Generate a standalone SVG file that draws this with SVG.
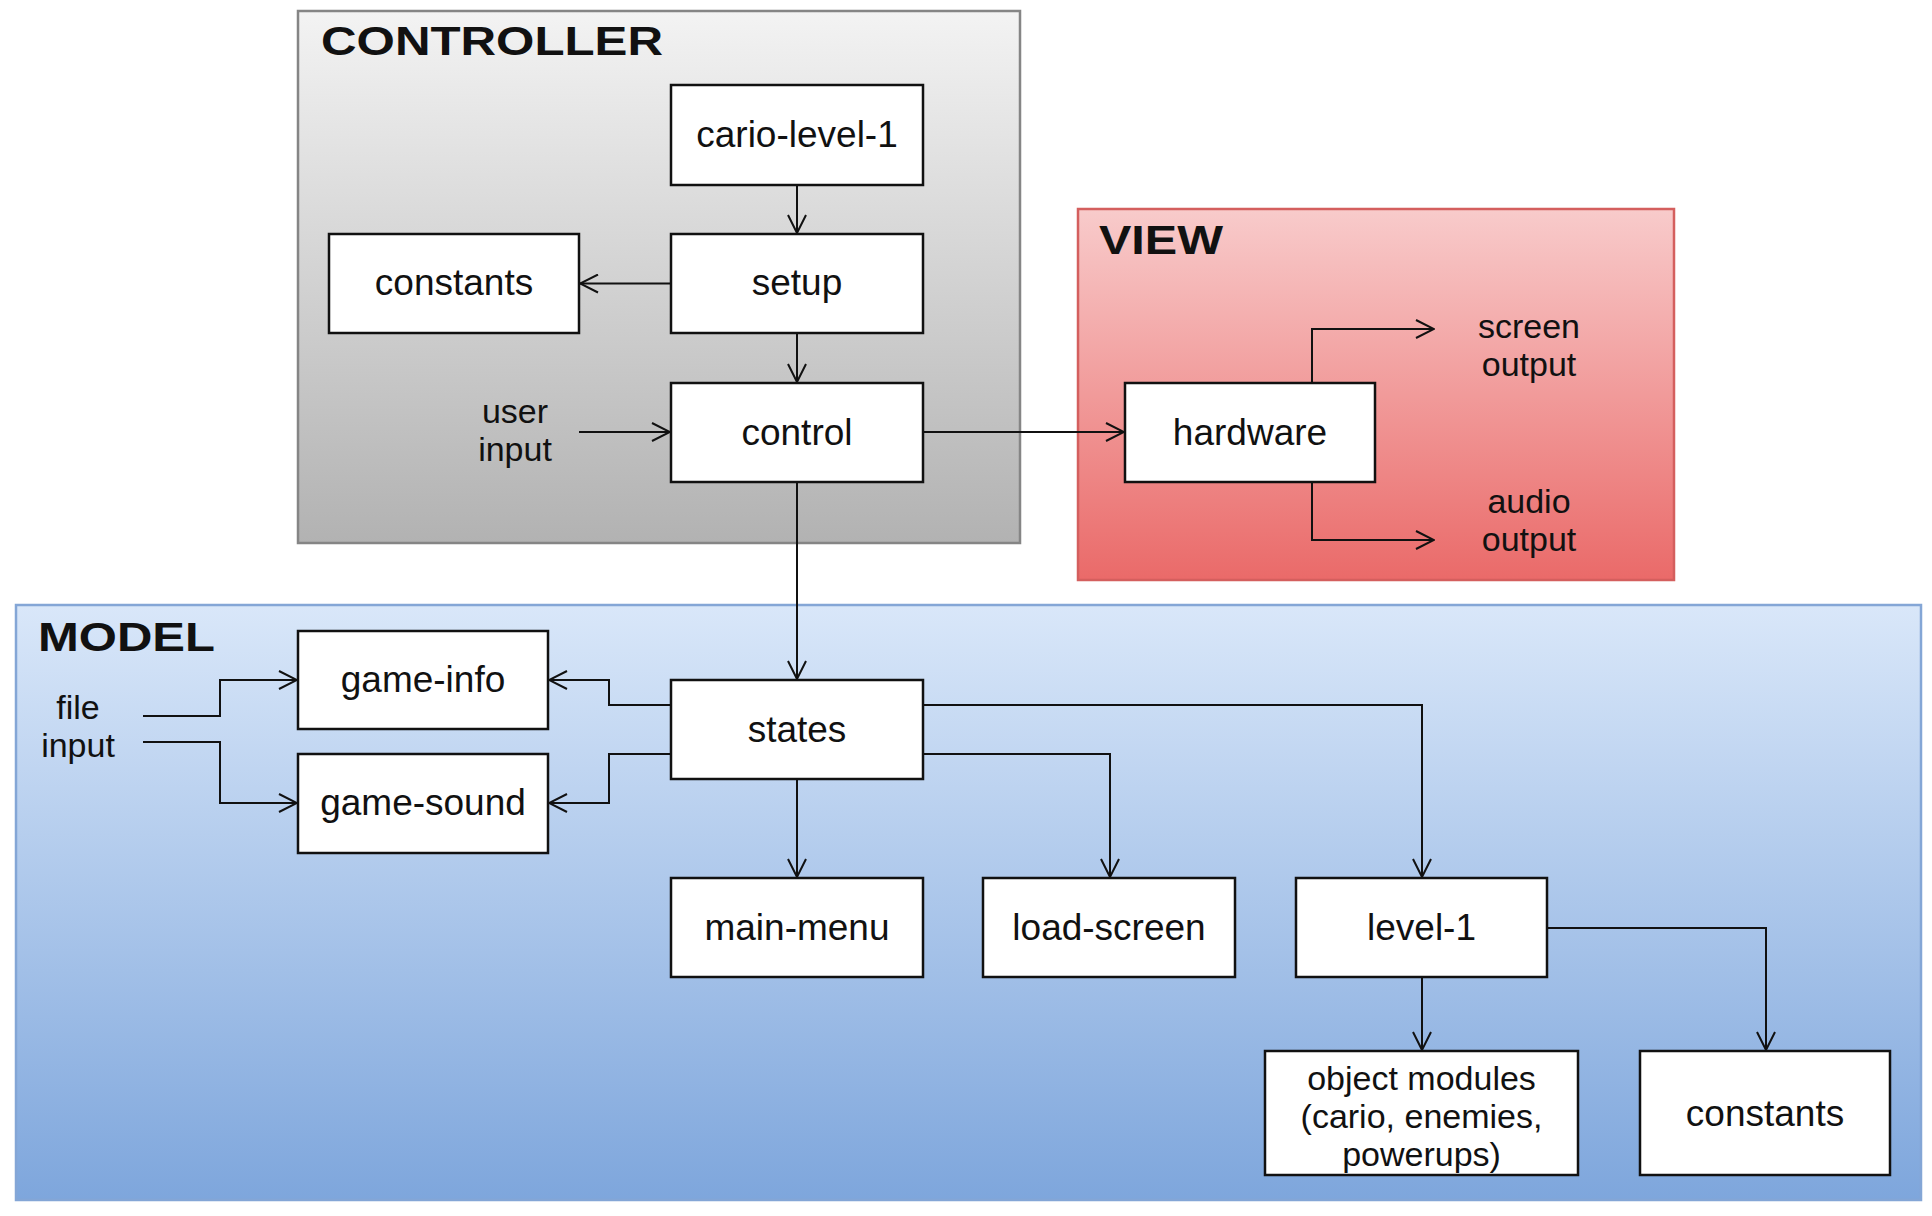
<svg xmlns="http://www.w3.org/2000/svg" width="1932" height="1216" viewBox="0 0 1932 1216">
<defs>
<linearGradient id="gCtrl" x1="0" y1="0" x2="0" y2="1"><stop offset="0" stop-color="#f3f3f3"/><stop offset="1" stop-color="#b2b2b2"/></linearGradient>
<linearGradient id="gView" x1="0" y1="0" x2="0" y2="1"><stop offset="0" stop-color="#f8cbcb"/><stop offset="1" stop-color="#ea6a69"/></linearGradient>
<linearGradient id="gModel" x1="0" y1="0" x2="0" y2="1"><stop offset="0" stop-color="#d9e7f9"/><stop offset="1" stop-color="#7ea6dc"/></linearGradient>
<marker id="arr" viewBox="0 0 20 20" refX="19" refY="10" markerWidth="20" markerHeight="20" orient="auto" markerUnits="userSpaceOnUse"><path d="M1,1 L19,10 L1,19" fill="none" stroke="#111" stroke-width="2"/></marker>
</defs>
<style>
.box{fill:#fff;stroke:#111;stroke-width:2.5}
.lbl{font-family:"Liberation Sans",Arial,sans-serif;font-size:37px;fill:#111;text-anchor:middle}
.ml{font-size:34px}
.ttl{font-family:"Liberation Sans",Arial,sans-serif;font-size:40px;font-weight:bold;fill:#111}
.con{fill:none;stroke:#111;stroke-width:2;marker-end:url(#arr)}
</style>
<rect width="1932" height="1216" fill="#fff"/>
<g id="controller">
<rect x="298" y="11" width="722" height="532" fill="url(#gCtrl)" stroke="#858585" stroke-width="2.5"/>
<text class="ttl" x="321" y="55" textLength="342" lengthAdjust="spacingAndGlyphs">CONTROLLER</text>
</g>
<g id="view">
<rect x="1078" y="209" width="596" height="371" fill="url(#gView)" stroke="#d45f5e" stroke-width="2.5"/>
<text class="ttl" x="1099" y="254" textLength="124" lengthAdjust="spacingAndGlyphs">VIEW</text>
</g>
<g id="model">
<rect x="16" y="605" width="1905" height="595" fill="url(#gModel)" stroke="#84a6d6" stroke-width="2.5"/>
<text class="ttl" x="38" y="651" textLength="177" lengthAdjust="spacingAndGlyphs">MODEL</text>
</g>
<g id="connectors">
<path class="con" d="M797,185 V233"/>
<path class="con" d="M671,283.5 H580"/>
<path class="con" d="M797,333 V382"/>
<path class="con" d="M579,432 H670"/>
<path class="con" d="M923,432 H1124"/>
<path class="con" d="M1312,383 V329 H1434"/>
<path class="con" d="M1312,482 V540 H1434"/>
<path class="con" d="M797,482 V679"/>
<path class="con" d="M143,716 H220 V680 H297"/>
<path class="con" d="M143,742 H220 V803 H297"/>
<path class="con" d="M671,705 H609 V680 H549"/>
<path class="con" d="M671,754 H609 V803 H549"/>
<path class="con" d="M797,779 V877"/>
<path class="con" d="M923,754 H1110 V877"/>
<path class="con" d="M923,705 H1422 V877"/>
<path class="con" d="M1422,977 V1050"/>
<path class="con" d="M1547,928 H1766 V1050"/>
</g>
<g id="cario-level-1"><rect class="box" x="671" y="85" width="252" height="100"/><text class="lbl" x="797" y="147">cario-level-1</text></g>
<g id="setup"><rect class="box" x="671" y="234" width="252" height="99"/><text class="lbl" x="797" y="295">setup</text></g>
<g id="constants-ctrl"><rect class="box" x="329" y="234" width="250" height="99"/><text class="lbl" x="454" y="295">constants</text></g>
<g id="control"><rect class="box" x="671" y="383" width="252" height="99"/><text class="lbl" x="797" y="445">control</text></g>
<g id="user-input"><text class="lbl ml" x="515" y="423">user</text><text class="lbl ml" x="515" y="461">input</text></g>
<g id="hardware"><rect class="box" x="1125" y="383" width="250" height="99"/><text class="lbl" x="1250" y="445">hardware</text></g>
<g id="screen-output"><text class="lbl ml" x="1529" y="338">screen</text><text class="lbl ml" x="1529" y="376">output</text></g>
<g id="audio-output"><text class="lbl ml" x="1529" y="513">audio</text><text class="lbl ml" x="1529" y="551">output</text></g>
<g id="file-input"><text class="lbl ml" x="78" y="719">file</text><text class="lbl ml" x="78" y="757">input</text></g>
<g id="game-info"><rect class="box" x="298" y="631" width="250" height="98"/><text class="lbl" x="423" y="692">game-info</text></g>
<g id="game-sound"><rect class="box" x="298" y="754" width="250" height="99"/><text class="lbl" x="423" y="815">game-sound</text></g>
<g id="states"><rect class="box" x="671" y="680" width="252" height="99"/><text class="lbl" x="797" y="742">states</text></g>
<g id="main-menu"><rect class="box" x="671" y="878" width="252" height="99"/><text class="lbl" x="797" y="940">main-menu</text></g>
<g id="load-screen"><rect class="box" x="983" y="878" width="252" height="99"/><text class="lbl" x="1109" y="940">load-screen</text></g>
<g id="level-1"><rect class="box" x="1296" y="878" width="251" height="99"/><text class="lbl" x="1421.5" y="940">level-1</text></g>
<g id="object-modules"><rect class="box" x="1265" y="1051" width="313" height="124"/><text class="lbl ml" x="1421.5" y="1090">object modules</text><text class="lbl ml" x="1421.5" y="1128">(cario, enemies,</text><text class="lbl ml" x="1421.5" y="1166">powerups)</text></g>
<g id="constants-model"><rect class="box" x="1640" y="1051" width="250" height="124"/><text class="lbl" x="1765" y="1126">constants</text></g>
</svg>
